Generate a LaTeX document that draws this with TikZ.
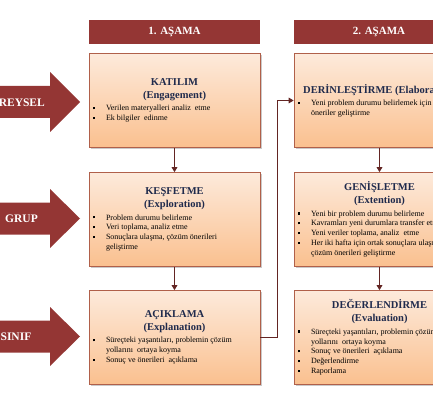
\documentclass[tikz,border=0pt]{standalone}
\usepackage{fontspec}
\setmainfont{Liberation Serif}
\usetikzlibrary{arrows.meta,shadows}
\definecolor{hdr}{HTML}{943634}
\definecolor{conn}{HTML}{632523}
\definecolor{ttl}{HTML}{1F2A4C}
\definecolor{boxtop}{HTML}{FDEADB}
\definecolor{boxbot}{HTML}{FAC08F}
\definecolor{boxline}{HTML}{B0604A}
\newcommand{\ttlf}{\fontsize{10.5}{13}\selectfont\bfseries\color{ttl}}
\newcommand{\bodyf}{\fontsize{8}{9.8}\selectfont\color{black}}
\newcommand{\bitem}[1]{\par\hangindent=13pt\hangafter=1\noindent\makebox[13pt][l]{\rule[1.6pt]{2.2pt}{2.2pt}}#1}
\newcommand{\stg}[3]{\begin{minipage}{163pt}\centering{\ttlf #1\par}\vspace{2.5pt}\raggedright\bodyf #3\par\end{minipage}}
\tikzset{
  stagebox/.style={draw=boxline, line width=0.6pt, top color=boxtop, bottom color=boxbot,
    minimum width=171pt, minimum height=94pt, inner sep=4pt, anchor=center,
    drop shadow={shadow xshift=1.5pt, shadow yshift=-1.5pt, opacity=0.35, fill=black!60}},
  hdrbox/.style={fill=hdr, minimum width=171pt, minimum height=24pt, inner sep=0pt,
    text=white, font=\fontsize{11}{13}\selectfont\bfseries},
  conn/.style={draw=conn, line width=1.7pt, -{Triangle[length=5pt,width=5.5pt]}},
  bigarrow/.style={fill=hdr},
  arrlabel/.style={text=white, font=\fontsize{11.5}{13}\selectfont\bfseries, inner sep=0pt}
}
\begin{document}
\begin{tikzpicture}[x=1pt,y=-1pt]
\useasboundingbox (0,0) rectangle (433,414);
\clip (0,0) rectangle (433,414);
% left block arrows
\fill[bigarrow] (-5,86) -- (50,86) -- (50,72) -- (80,102) -- (50,132) -- (50,118) -- (-5,118) -- cycle;
\fill[bigarrow] (-5,202.5) -- (50,202.5) -- (50,189) -- (80,218.5) -- (50,248) -- (50,234.5) -- (-5,234.5) -- cycle;
\fill[bigarrow] (-5,320.5) -- (50,320.5) -- (50,307) -- (80,336.5) -- (50,366) -- (50,352.5) -- (-5,352.5) -- cycle;
\node[arrlabel, anchor=east] (l1) at (45,102) {BİREYSEL};
\node[arrlabel, anchor=east] (l2) at (38,218.5) {GRUP};
\node[arrlabel, anchor=east] (l3) at (31.5,336.5) {SINIF};
% headers
\node[hdrbox] (h1) at (174.5,32) {1. AŞAMA};
\node[hdrbox] (h2) at (379,32) {2. AŞAMA};
% left column
\node[stagebox] (b1) at (174.5,100.5) {\stg{KATILIM\\(Engagement)}{}{%
\bitem{Verilen materyalleri analiz\ \ etme}
\bitem{Ek bilgiler\ \ edinme}}};
\node[stagebox] (b2) at (174.5,219.5) {\stg{KEŞFETME\\(Exploration)}{}{%
\bitem{Problem durumu belirleme}
\bitem{Veri toplama, analiz etme}
\bitem{Sonuçlara ulaşma, çözüm önerileri\newline geliştirme}}};
\node[stagebox] (b3) at (174.5,337.5) {\stg{AÇIKLAMA\\(Explanation)}{}{%
\bitem{Süreçteki yaşantıları, problemin çözüm\newline yollarını\ \ ortaya koyma}
\bitem{Sonuç ve önerileri\ \ açıklama}}};
% right column
\node[stagebox] (r1) at (379.5,100.5) {\stg{DERİNLEŞTİRME (Elaboration)}{}{%
\bitem{Yeni problem durumu belirlemek için çözüm\newline öneriler geliştirme}}};
\node[stagebox] (r2) at (379.5,219.5) {\stg{GENİŞLETME\\(Extention)}{}{%
\bitem{Yeni bir problem durumu belirleme}
\bitem{Kavramları yeni durumlara transfer etme}
\bitem{Yeni veriler toplama, analiz\ \ etme}
\bitem{Her iki hafta için ortak sonuçlara ulaşma,\newline çözüm önerileri geliştirme}}};
\node[stagebox] (r3) at (379.5,337.5) {\stg{DEĞERLENDİRME\\(Evaluation)}{}{%
\bitem{Süreçteki yaşantıları, problemin çözüm\newline yollarını\ \ ortaya koyma}
\bitem{Sonuç ve önerileri\ \ açıklama}
\bitem{Değerlendirme}
\bitem{Raporlama}}};
% connectors
\draw[conn] (b1) -- (b2);
\draw[conn] (b2) -- (b3);
\draw[conn] (r1) -- (r2);
\draw[conn] (r2) -- (r3);
\coordinate (k) at (277.5,0);
\draw[conn] (b3.east) -| (k |- r1.west) -- (r1.west);
\end{tikzpicture}
\end{document}
